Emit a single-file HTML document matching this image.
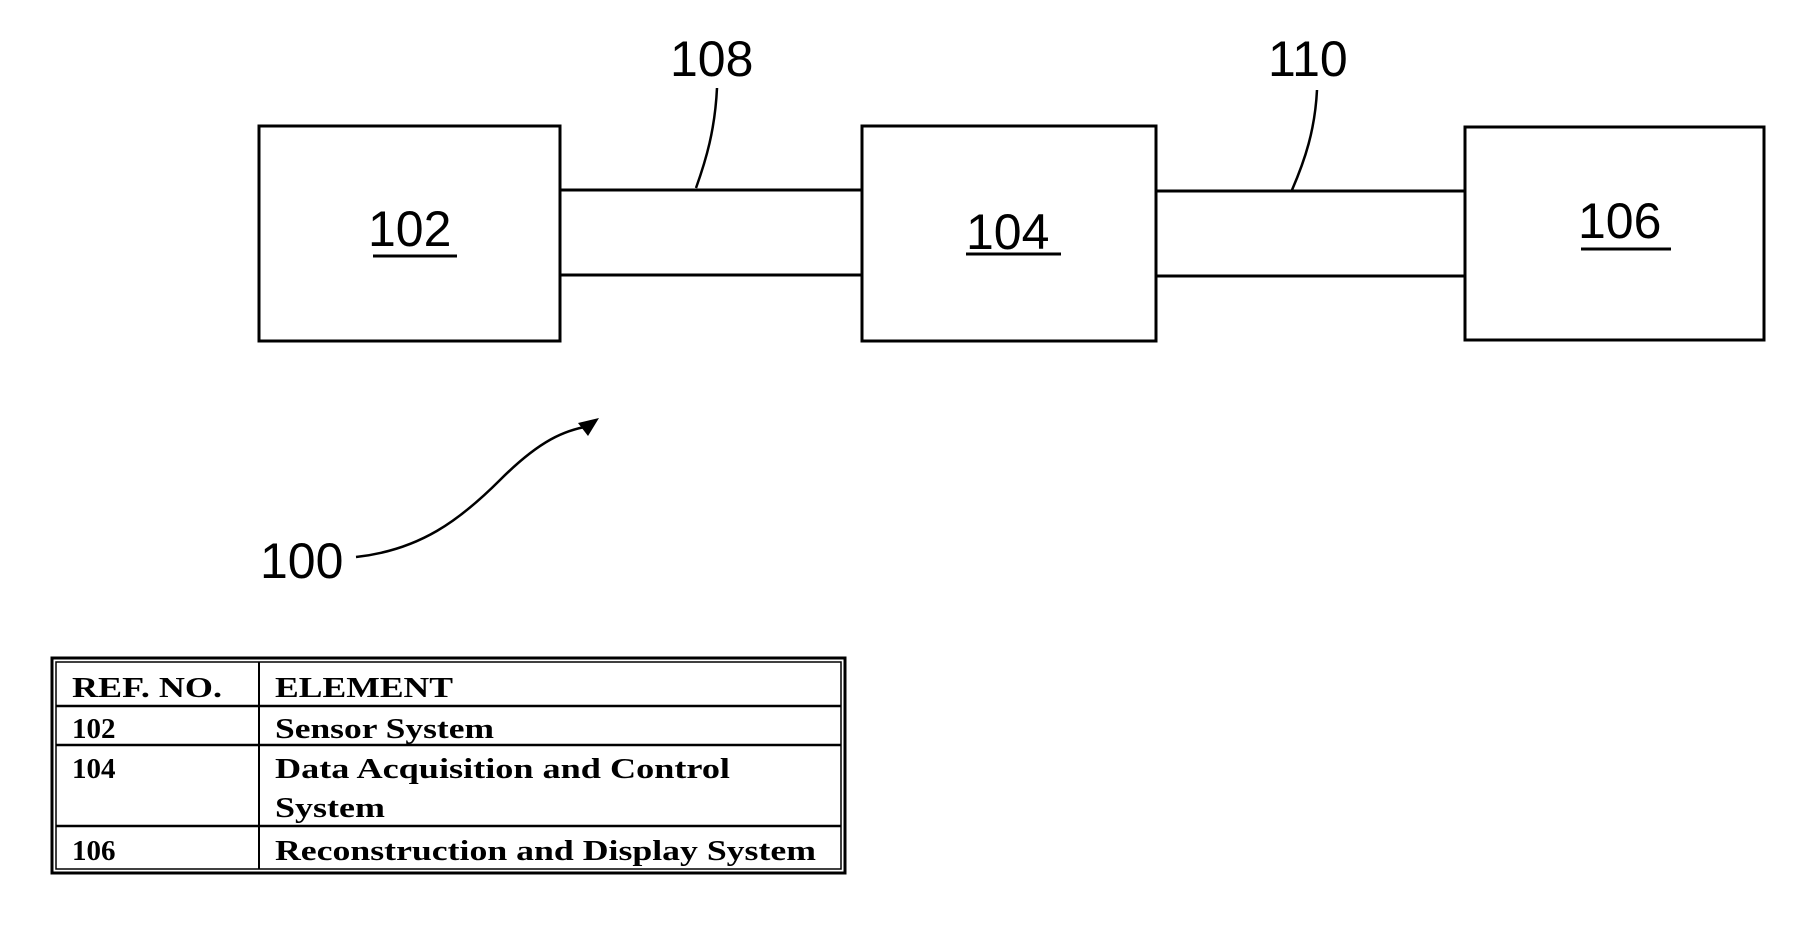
<!DOCTYPE html>
<html><head><style>html,body{margin:0;padding:0;background:#fff}svg{display:block}</style></head>
<body>
<svg width="1819" height="925" viewBox="0 0 1819 925" xmlns="http://www.w3.org/2000/svg">
<g fill="none" stroke="#000" stroke-width="3">
<rect x="259" y="126" width="301" height="215"/>
<rect x="862" y="126" width="294" height="215"/>
<rect x="1465" y="127" width="299" height="213"/>
<line x1="560" y1="190" x2="862" y2="190"/>
<line x1="560" y1="275" x2="862" y2="275"/>
<line x1="1156" y1="191" x2="1465" y2="191"/>
<line x1="1156" y1="276" x2="1465" y2="276"/>
<path d="M717 88 C715 130 706 160 696 188" stroke-width="2.5"/>
<path d="M1317 90 C1315 130 1305 160 1292 190" stroke-width="2.5"/>
<path d="M356 557 C420 550 460 520 500 480 C540 440 565 430 590 426" stroke-width="2.5"/>
<line x1="373" y1="256" x2="457" y2="256"/>
<line x1="966" y1="254" x2="1061" y2="254"/>
<line x1="1581" y1="249" x2="1671" y2="249"/>
</g>
<polygon points="599,418 578,423 588,436" fill="#000"/>
<g font-family="Liberation Sans, Arial, sans-serif" font-size="50" fill="#000">
<text x="670" y="76">108</text>
<text x="1268" y="76">110</text>
<text x="368" y="246">102</text>
<text x="966" y="249">104</text>
<text x="1578" y="238">106</text>
<text x="260" y="578">100</text>
</g>
<g fill="none" stroke="#000">
<rect x="52" y="658" width="793" height="215" stroke-width="3"/>
<rect x="56" y="662" width="785" height="207" stroke-width="1.5"/>
<line x1="259" y1="662" x2="259" y2="869" stroke-width="2"/>
<line x1="56" y1="706" x2="841" y2="706" stroke-width="2.5"/>
<line x1="56" y1="745" x2="841" y2="745" stroke-width="2.5"/>
<line x1="56" y1="826" x2="841" y2="826" stroke-width="2.5"/>
</g>
<g font-family="Liberation Serif, Times New Roman, serif" font-weight="bold" font-size="29" fill="#000">
<text x="72" y="697" textLength="150" lengthAdjust="spacingAndGlyphs">REF. NO.</text>
<text x="275" y="697" textLength="178" lengthAdjust="spacingAndGlyphs">ELEMENT</text>
<text x="72" y="738">102</text>
<text x="275" y="738" textLength="219" lengthAdjust="spacingAndGlyphs">Sensor System</text>
<text x="72" y="778">104</text>
<text x="275" y="778" textLength="455" lengthAdjust="spacingAndGlyphs">Data Acquisition and Control</text>
<text x="275" y="817" textLength="110" lengthAdjust="spacingAndGlyphs">System</text>
<text x="72" y="860">106</text>
<text x="275" y="860" textLength="541" lengthAdjust="spacingAndGlyphs">Reconstruction and Display System</text>
</g>
</svg>
</body></html>
